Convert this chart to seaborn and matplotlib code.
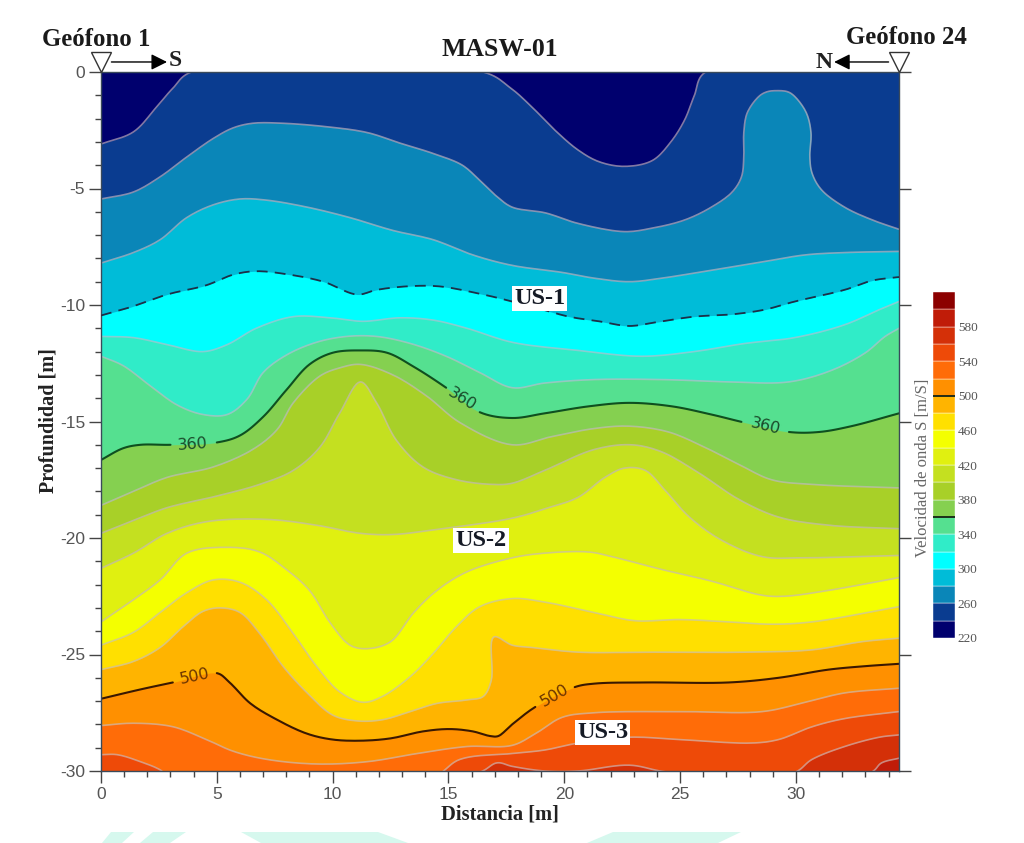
import numpy as np
import matplotlib
matplotlib.use("Agg")
import matplotlib.pyplot as plt
from matplotlib.patches import Polygon
import seaborn as sns

X_MAX = 34.45

# isolines read from the section: distance [m], depth [m]
x_240 = [0, 1.4, 2.4, 3.1, 3.9, 16.5, 17.7, 18.6, 19.6, 20.6, 21.5, 22.6, 23.8, 24.6, 25.2, 25.6, 26.1, 34.45]
d_240 = [-3.09, -2.57, -1.5, -0.7, 0, 0, -0.7, -1.5, -2.5, -3.35, -3.85, -4.05, -3.8, -3.0, -2.05, -1.05, 0, 0]

x_260 = [0, 1.4, 2.55, 3.7, 4.85, 5.7, 6.55, 7.85, 9.75, 11.5, 12.9, 14.35, 15.6, 16.35, 17.1, 17.75, 19.2, 20.6,
         22.6, 23.8, 25.2, 26.35, 27.25, 27.65, 27.75, 27.75, 27.9, 28.4, 28.75, 29.2, 29.65, 29.95, 30.45, 30.65, 30.6, 30.7, 31.1,
         32.1, 33.3, 34.45]
d_260 = [-5.45, -5.15, -4.5, -3.65, -2.85, -2.4, -2.2, -2.2, -2.35, -2.6, -3.05, -3.5, -4, -4.65, -5.35, -5.8, -6.05, -6.5,
         -6.85, -6.7, -6.35, -5.8, -5.15, -4.5, -3.65, -2.6, -1.75, -1.05, -0.85, -0.8, -0.85, -1.05, -1.75, -2.6, -3.65, -4.35, -5.05,
         -5.8, -6.35, -6.75]

x_280 = [0, 1.4, 2.55, 3.7, 4.85, 6, 7.15, 8.9, 10.75, 12.6, 14.35, 16.05, 17.75, 19.9, 21.3, 22.8, 24.2, 26.4, 28.55, 30.4, 32.1, 34.45]
d_280 = [-8.2, -7.75, -7.2, -6.25, -5.7, -5.45, -5.5, -5.8, -6.25, -6.8, -7.2, -7.85, -8.3, -8.6, -8.85, -9, -8.85, -8.5, -8.15, -7.85, -7.75, -7.7]

x_300 = [0, 1.25, 2.85, 4.55, 5.7, 6.7, 8.15, 9.6, 11.05, 11.9, 13.2, 14.6, 16.5, 17.75, 18.9, 20.2, 21.5, 22.8, 23.9, 25.6, 27.25, 28.65, 29.95, 32.1, 33.3, 34.45]
d_300 = [-10.45, -10.1, -9.55, -9.15, -8.7, -8.55, -8.7, -9, -9.55, -9.35, -9.2, -9.2, -9.55, -9.85, -10.15, -10.5, -10.7, -10.9, -10.75, -10.5, -10.4, -10.2, -9.85, -9.35, -8.95, -8.8]

x_320 = [0, 1.4, 2.85, 4.4, 5.45, 6.7, 8.3, 9.9, 11.3, 12.9, 14.35, 15.8, 17.75, 20.6, 23.35, 25.6, 27.8, 29.95, 32.1, 33.6, 34.45]
d_320 = [-11.35, -11.4, -11.7, -12, -11.7, -11, -10.5, -10.55, -10.7, -10.55, -10.65, -11, -11.6, -11.95, -12.2, -12, -11.65, -11.4, -10.85, -10.2, -9.85]

x_340 = [0, 0.95, 2.1, 3.3, 4.4, 5.45, 6.3, 7, 8, 9.3, 10.6, 11.9, 13.35, 14.9, 16.35, 17.75, 19.15, 21.3, 24.2, 27.1, 29.7, 31.55, 33, 33.85, 34.45]
d_340 = [-12.2, -12.6, -13.45, -14.3, -14.7, -14.7, -14.05, -12.9, -12.15, -11.6, -11.35, -11.35, -11.65, -12.2, -12.9, -13.55, -13.35, -13.2, -13.2, -13.3, -13.3, -12.8, -12.05, -11.35, -11]

x_360 = [0, 0.95, 1.7, 3, 5, 6, 7, 8, 9, 10, 11.2, 12.35, 13.5, 14.9, 16.35, 17.75, 19.15, 21.05, 22.8, 24.65, 26.35, 27.8, 29.7, 31, 32.4, 34.45]
d_360 = [-16.65, -16.15, -16, -16, -15.9, -15.6, -14.8, -13.65, -12.55, -12.05, -11.95, -12.05, -12.65, -13.55, -14.6, -14.85, -14.65, -14.35, -14.2, -14.35, -14.7, -15.05, -15.45, -15.45, -15.2, -14.65]

x_380 = [0, 1.4, 2.85, 4.85, 6.55, 7.6, 8.3, 9.45, 10.3, 11.2, 12.6, 14.05, 15.5, 17.75, 19.45, 21.3, 22.8, 24.5, 26.05, 27.55, 28.95, 30.7, 34.45]
d_380 = [-18.6, -18, -17.4, -16.95, -16.2, -15.35, -14.2, -13.05, -12.7, -12.55, -13, -13.9, -15.05, -16, -15.65, -15.3, -15.2, -15.45, -16.1, -16.85, -17.5, -17.7, -17.85]

x_400 = [0, 1.4, 2.85, 5, 6.85, 8.3, 9.45, 10.3, 11.2, 11.9, 12.75, 13.9, 15.35, 16.9, 17.75, 19.15, 21.3, 22.9, 24.2, 25.8, 27.55, 29.25, 31.4, 34.45]
d_400 = [-19.8, -19.25, -18.7, -18.2, -17.7, -17.1, -16.1, -14.65, -13.3, -14.2, -15.8, -16.95, -17.5, -17.7, -17.65, -17.1, -16.2, -16, -16.3, -17.2, -18.35, -19.1, -19.45, -19.6]

x_420 = [0, 1.4, 2.85, 4.55, 7.15, 9.3, 11.2, 12.6, 14.35, 17.75, 19.15, 20.6, 21.75, 22.6, 23.5, 24.35, 25.4, 26.8, 28.55, 30.25, 34.45]
d_420 = [-21.3, -20.65, -19.8, -19.3, -19.2, -19.45, -19.8, -19.85, -19.65, -19.15, -18.75, -18.25, -17.4, -17, -17.1, -17.95, -19.1, -20.1, -20.8, -20.85, -20.75]

x_440 = [0, 1.4, 2.55, 3.7, 5.45, 6.85, 8, 9, 9.9, 10.75, 11.5, 12.5, 13.5, 14.5, 15.8, 17.75, 19.15, 21.05, 22.05, 24.2, 26.35, 28.5, 29.5, 31.4, 34.45]
d_440 = [-23.6, -22.65, -21.8, -20.65, -20.4, -20.6, -21.35, -22.25, -23.65, -24.6, -24.75, -24.45, -23.2, -22.25, -21.45, -20.85, -20.65, -20.6, -20.8, -21.35, -21.85, -22.45, -22.5, -22.25, -21.7]

x_460 = [0, 1.4, 2.55, 3.7, 4.85, 6, 7.15, 8.3, 9.3, 10.3, 11.3, 12.15, 13.35, 14.35, 15.35, 16.35, 17.75, 19.15, 21.3, 23.05, 24.95, 27.1, 28.95, 30.7, 34.45]
d_460 = [-24.6, -24.05, -23.2, -22.35, -21.8, -21.9, -22.65, -24.1, -25.5, -26.6, -27.05, -26.8, -25.95, -24.95, -23.8, -22.95, -22.6, -22.75, -23.2, -23.55, -23.5, -23.6, -23.7, -23.6, -22.95]

x_480 = [0, 1.4, 2.55, 3.55, 4.4, 5.15, 6, 6.85, 7.85, 8.9, 10, 11.05, 12.15, 13.35, 14.5, 15.8, 16.5, 16.85, 16.95, 17.75, 18.6, 20.6, 23.5, 27.8, 30.7, 32.85, 34.45]
d_480 = [-25.65, -25.3, -24.7, -23.8, -23.15, -23, -23.2, -24.1, -25.5, -26.65, -27.6, -27.85, -27.8, -27.45, -27.1, -26.95, -26.8, -26.1, -24.25, -24.6, -24.7, -24.9, -24.9, -24.9, -24.8, -24.45, -24.3]

x_500 = [0, 1.7, 3.1, 5, 5.55, 6.45, 7.6, 8.9, 10, 11.2, 12.5, 13.9, 15.05, 16.05, 16.8, 17.15, 17.75, 18.75, 20.45, 21.3, 23.5, 27.1, 29.25, 31.4, 33, 34.45]
d_500 = [-26.9, -26.5, -26.2, -25.8, -26.2, -27.1, -27.8, -28.4, -28.65, -28.7, -28.6, -28.3, -28.2, -28.3, -28.5, -28.5, -28, -27.25, -26.4, -26.25, -26.2, -26.2, -26, -25.65, -25.5, -25.4]

x_520 = [0, 1.4, 3.1, 4.55, 5.7, 7.15, 9.3, 11.5, 13.65, 15.8, 17.75, 18.75, 19.9, 21.3, 24.95, 28.55, 30.4, 32.1, 34.45]
d_520 = [-28.05, -27.95, -28.1, -28.65, -29.15, -29.5, -29.7, -29.6, -29.25, -28.95, -28.9, -28.4, -27.7, -27.5, -27.45, -27.45, -27.05, -26.65, -26.45]

x_540 = [0, 0.7, 1.7, 2.55, 3, 14.2, 15.5, 17.75, 19.15, 20.6, 22.8, 24.95, 28.1, 29.25, 30.7, 32.1, 34.45]
d_540 = [-29.3, -29.3, -29.6, -29.95, -30.3, -30.3, -29.5, -29.25, -29.1, -28.8, -28.55, -28.65, -28.8, -28.65, -28.1, -27.75, -27.45]

x_560 = [0, 16.2, 17.1, 17.75, 19.15, 20.6, 22.8, 24.5, 29.85, 30.7, 32.1, 33.6, 34.45]
d_560 = [-30.5, -30.1, -29.65, -29.8, -30, -30, -29.75, -30.05, -30.1, -29.5, -28.95, -28.55, -28.45]

x_580 = [0, 33.15, 33.7, 34.45]
d_580 = [-30.5, -30.1, -29.65, -29.45]

isolines = [(240, x_240, d_240), (260, x_260, d_260), (280, x_280, d_280), (300, x_300, d_300),
            (320, x_320, d_320), (340, x_340, d_340), (360, x_360, d_360), (380, x_380, d_380),
            (400, x_400, d_400), (420, x_420, d_420), (440, x_440, d_440), (460, x_460, d_460),
            (480, x_480, d_480), (500, x_500, d_500), (520, x_520, d_520), (540, x_540, d_540),
            (560, x_560, d_560), (580, x_580, d_580)]

levels = np.arange(220, 640, 20)
level_colors = ["#00006e", "#0a3c90", "#0a86b8", "#00bcd8", "#00ffff", "#30ecc8", "#55e090", "#85d050",
                "#a8d028", "#c4e020", "#e0f010", "#f4ff00", "#ffe000", "#ffb400", "#ff9000", "#ff6c08",
                "#ee4a08", "#d43008", "#c01c08", "#8c0000"]
cbar_ticks = [220, 260, 300, 340, 380, 420, 460, 500, 540, 580]

# label gaps along the two highlighted isolines
gaps_360 = [(3, 5), (14.9, 16.35), (27.8, 29.7)]
gaps_500 = [(3.1, 5), (18.75, 20.45)]
labels_360 = [(3.95, -15.97, 4), (15.6, -14.05, -32), (28.7, -15.2, -14)]
labels_500 = [(4.05, -25.95, 12), (19.6, -26.75, 30)]

sns.set_theme(style="ticks")
plt.rcParams["axes.unicode_minus"] = False
plt.rcParams["font.family"] = ["Liberation Sans", "DejaVu Sans"]
SERIF = "Liberation Serif"
GREY = "#555555"


def rounded(x, d, n=10):
    # centripetal Catmull-Rom through the read points, the section has smoothed contours
    p = np.column_stack([x, d]).astype(float)
    p = np.vstack([2 * p[0] - p[1], p, 2 * p[-1] - p[-2]])
    out = [p[1]]
    for p0, p1, p2, p3 in zip(p[:-3], p[1:-2], p[2:-1], p[3:]):
        t0 = 0
        t1 = t0 + np.linalg.norm(p1 - p0) ** 0.5
        t2 = t1 + np.linalg.norm(p2 - p1) ** 0.5
        t3 = t2 + np.linalg.norm(p3 - p2) ** 0.5
        for t in np.linspace(t1, t2, n + 1)[1:]:
            a1 = (t1 - t) / (t1 - t0) * p0 + (t - t0) / (t1 - t0) * p1
            a2 = (t2 - t) / (t2 - t1) * p1 + (t - t1) / (t2 - t1) * p2
            a3 = (t3 - t) / (t3 - t2) * p2 + (t - t2) / (t3 - t2) * p3
            b1 = (t2 - t) / (t2 - t0) * a1 + (t - t0) / (t2 - t0) * a2
            b2 = (t3 - t) / (t3 - t1) * a2 + (t - t1) / (t3 - t1) * a3
            out.append((t2 - t) / (t2 - t1) * b1 + (t - t1) / (t2 - t1) * b2)
    out = np.array(out)
    return out[:, 0], out[:, 1]


def draw_segments(ax, x, d, gaps, color):
    x, d = rounded(x, d)
    edges = [0] + [v for g in gaps for v in g] + [X_MAX]
    for a, b in zip(edges[::2], edges[1::2]):
        mask = (x >= a) & (x <= b)
        sns.lineplot(x=x[mask], y=d[mask], ax=ax, color=color, lw=1.5, sort=False, estimator=None, legend=False)


fig = plt.figure(figsize=(10.24, 8.43), dpi=100)

# pale watermark cut off at the bottom of the page
for pts in ([(111, 832), (134, 832), (122, 843), (102, 843)], [(153, 832), (186, 832), (170, 843), (140, 843)],
            [(241, 832), (378, 832), (408, 843), (261, 843)], [(613, 832), (741, 832), (718, 843), (587, 843)]):
    fig.add_artist(Polygon([(px / 1024, 1 - py / 843) for px, py in pts], transform=fig.transFigure,
                           facecolor="#d6f8ee", edgecolor="none"))

ax = fig.add_axes([101 / 1024, 1 - 771 / 843, 798 / 1024, 699 / 843])
ax.set_facecolor(level_colors[0])

for i, (lev, x, d) in enumerate(isolines):
    xs, ds = rounded(x, d)
    ax.fill_between(xs, ds, -31, color=level_colors[i + 1], lw=0, zorder=1 + i * 0.01)

for lev, x, d in isolines:
    if lev in (300, 360, 500):
        continue
    xs, ds = rounded(x, d)
    sns.lineplot(x=xs, y=ds, ax=ax, color="#c8b8c0", alpha=0.65, lw=1.2, sort=False, estimator=None, legend=False, zorder=2)

xs, ds = rounded(x_300, d_300)
sns.lineplot(x=xs, y=ds, ax=ax, color="#1c3048", lw=1.3, ls=(0, (6, 4)), sort=False, estimator=None, legend=False, zorder=3)
draw_segments(ax, x_360, d_360, gaps_360, "#0f4f1f")
draw_segments(ax, x_500, d_500, gaps_500, "#3a1800")
for lx, ld, rot in labels_360:
    ax.text(lx, ld, "360", color="#1a4a2a", fontsize=11.5, family="DejaVu Sans", rotation=rot, ha="center", va="center", zorder=4)
for lx, ld, rot in labels_500:
    ax.text(lx, ld, "500", color="#6a3400", fontsize=11.5, family="DejaVu Sans", rotation=rot, ha="center", va="center", zorder=4)

ax.set_xlim(0, X_MAX)
ax.set_ylim(-30, 0)
ax.set_xticks(np.arange(0, 35, 5))
ax.set_xticks(np.arange(0, 35, 1), minor=True)
ax.set_yticks(np.arange(-30, 1, 5))
ax.set_yticks(np.arange(-30, 1, 1), minor=True)
ax.tick_params(axis="both", which="major", length=8.5, width=1, color="#444444", labelcolor=GREY, labelsize=12.5, pad=3)
ax.tick_params(axis="both", which="minor", length=4.5, width=1, color="#444444")
ax.tick_params(axis="y", which="both", left=True, right=True)
ax.tick_params(axis="y", which="minor", right=False)
for side in ax.spines:
    ax.spines[side].set_color("#3a4a5a")
    ax.spines[side].set_linewidth(1)
    ax.spines[side].set_visible(True)

fig.text(499.5 / 1024, 1 - 815 / 843, "Distancia [m]", family=SERIF, weight="bold", fontsize=14.8, color="#222222", ha="center", va="center")
fig.text(49 / 1024, 1 - 421 / 843, "Profundidad [m]", family=SERIF, weight="bold", fontsize=14.5, color="#222222",
         rotation=90, ha="center", va="center")

for txt, tx, td in [("US-1", 18.93, -9.72), ("US-2", 16.4, -20.1), ("US-3", 21.65, -28.35)]:
    ax.text(tx, td, txt, family=SERIF, weight="bold", fontsize=17.5, color="#151a25", ha="center", va="center",
            bbox=dict(facecolor="white", edgecolor="none", pad=1.5), zorder=5)

# geophones and orientation arrows above the section
for gx in (0, X_MAX):
    ax.plot([gx], [0.43], marker="v", ms=14, mfc="white", mec="#333333", mew=1, clip_on=False, zorder=6)
ax.annotate("", xy=(2.85, 0.43), xytext=(0.45, 0.43), annotation_clip=False,
            arrowprops=dict(arrowstyle="-|>", color="black", lw=1, mutation_scale=24, shrinkA=0, shrinkB=0))
ax.annotate("", xy=(31.65, 0.43), xytext=(34.0, 0.43), annotation_clip=False,
            arrowprops=dict(arrowstyle="-|>", color="black", lw=1, mutation_scale=24, shrinkA=0, shrinkB=0))

fig.text(175 / 1024, 1 - 60 / 843, "S", family=SERIF, weight="bold", fontsize=17, color="#222222", ha="center", va="center")
fig.text(824 / 1024, 1 - 62 / 843, "N", family=SERIF, weight="bold", fontsize=17, color="#222222", ha="center", va="center")
fig.text(96 / 1024, 1 - 39 / 843, "Geófono 1", family=SERIF, weight="bold", fontsize=17.8, color="#1a1a1a", ha="center", va="center")
fig.text(906 / 1024, 1 - 37 / 843, "Geófono 24", family=SERIF, weight="bold", fontsize=17.8, color="#1a1a1a", ha="center", va="center")
fig.text(500 / 1024, 1 - 50 / 843, "MASW-01", family=SERIF, weight="bold", fontsize=18.5, color="#1a1a1a", ha="center", va="center")

# colour scale
cax = fig.add_axes([933 / 1024, 1 - 638 / 843, 22 / 1024, 346 / 843])
cax.bar(np.zeros(len(level_colors)), np.diff(levels), bottom=levels[:-1], width=1, color=level_colors,
        edgecolor="#ffffff", linewidth=0.3, alpha=1)
cax.hlines([360, 500], -0.5, 0.5, color="#102010", lw=1.3)
cax.set_xlim(-0.5, 0.5)
cax.set_ylim(220, 620)
cax.set_xticks([])
cax.yaxis.tick_right()
cax.set_yticks(cbar_ticks)
cax.tick_params(axis="y", length=0, labelsize=9.5, labelcolor=GREY, pad=2)
for lab in cax.get_yticklabels():
    lab.set_family(SERIF)
for side in cax.spines:
    cax.spines[side].set_visible(False)
fig.text(923 / 1024, 1 - 467.5 / 843, "Velocidad de onda S [m/S]", family=SERIF, fontsize=12, color="#666666",
         rotation=90, ha="center", va="center")

fig.savefig("out.png", dpi=100)
